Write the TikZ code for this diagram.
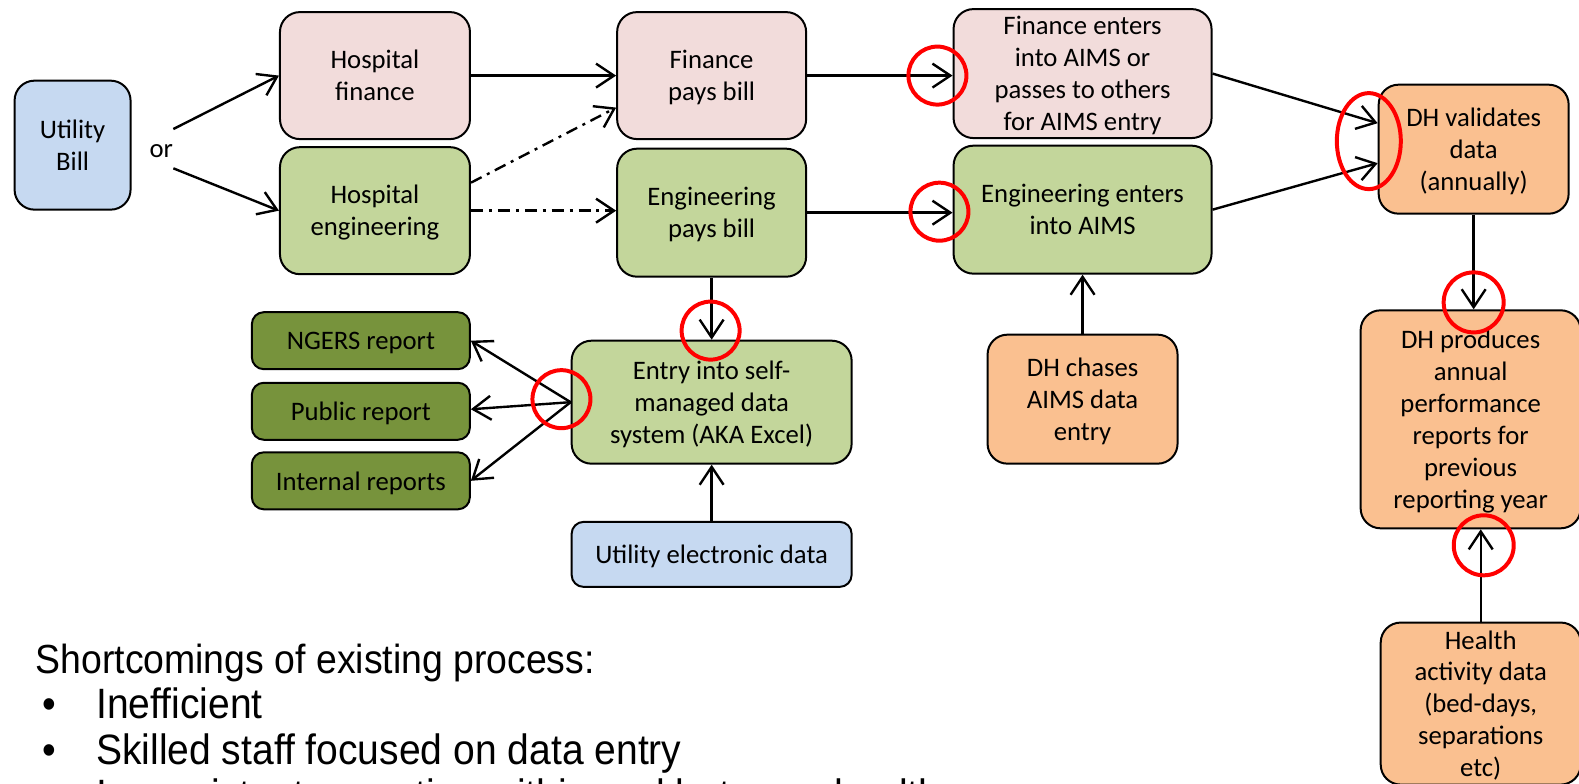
\documentclass[tikz,border=0pt]{standalone}
\usepackage{fontspec}
\setmainfont{Carlito}
\newfontfamily\notefont[FakeStretch=0.92]{Liberation Sans}
\usetikzlibrary{arrows.meta}

\definecolor{billblue}{HTML}{C6D9F1}
\definecolor{finpink}{HTML}{F2DCDB}
\definecolor{enggreen}{HTML}{C3D69B}
\definecolor{repgreen}{HTML}{77933C}
\definecolor{dhorange}{HTML}{FAC090}
\definecolor{hired}{HTML}{FF0000}

\tikzset{
	stage/.style={draw, line width=1pt, rounded corners=10pt, align=center,
		inner sep=2pt, text depth=0pt, font=\fontsize{13.4}{16}\selectfont},
	bill/.style={stage, fill=billblue},
	fin/.style={stage, fill=finpink},
	eng/.style={stage, fill=enggreen},
	rep/.style={stage, fill=repgreen, rounded corners=6pt},
	dh/.style={stage, fill=dhorange},
	flow/.style={line width=1.2pt, -{Straight Barb[length=9pt,width=12pt,line width=1.2pt]}},
	maybe/.style={flow, dash pattern=on 6pt off 3pt on 1.5pt off 3pt},
	hilite/.style={draw=hired, line width=2pt},
	note/.style={anchor=base west, inner sep=0pt, font=\notefont\fontsize{21.3}{22.5}\selectfont}
}

\begin{document}
\begin{tikzpicture}[x=0.504bp, y=-0.504bp]
	\useasboundingbox (0,0) rectangle (789.5bp,-392bp);

	% bill and first handling
	\node[bill, minimum width=58bp, minimum height=64.5bp] (ubill) at (72,144) {Utility\\Bill};
	\node[inner sep=0pt, font=\fontsize{13.4}{16}\selectfont] (or) at (160,150) {or};
	\coordinate (orup) at (172,128);
	\coordinate (ordown) at (172,167);
	\node[fin, minimum width=95bp, minimum height=63.5bp] (hfin) at (372,75) {Hospital\\finance};
	\node[eng, minimum width=95bp, minimum height=63.5bp] (heng) at (372,209) {Hospital\\engineering};
	\node[fin, minimum width=94.5bp, minimum height=63.5bp] (fpay) at (706,75) {Finance\\pays bill};
	\node[eng, minimum width=94.5bp, minimum height=64bp] (epay) at (706,211) {Engineering\\pays bill};

	% AIMS entry
	\node[fin, minimum width=129bp, minimum height=64.5bp] (fent) at (1074,73) {Finance enters\\into AIMS or\\passes to others\\for AIMS entry};
	\node[eng, minimum width=129bp, minimum height=64bp] (eent) at (1074,208) {Engineering enters\\into AIMS};
	\node[dh, minimum width=95bp, minimum height=64.5bp] (chase) at (1074,396) {DH chases\\AIMS data\\entry};

	% DH side
	\node[dh, minimum width=95bp, minimum height=64.5bp] (valid) at (1462,148) {DH validates\\data\\(annually)};
	\node[dh, minimum width=110bp, minimum height=109bp] (prod) at (1459,416) {DH produces\\annual\\performance\\reports for\\previous\\reporting year};
	\node[dh, minimum width=100bp, minimum height=81bp] (health) at (1469,698) {Health\\activity data\\(bed-days,\\separations\\etc)};

	% self-managed system
	\node[eng, minimum width=140bp, minimum height=61.5bp] (excel) at (706,399) {Entry into self-\\managed data\\system (AKA Excel)};
	\node[bill, minimum width=140bp, minimum height=32.5bp, rounded corners=6pt] (elec) at (706,550) {Utility electronic data};
	\node[rep, minimum width=109bp, minimum height=28.5bp] (ngers) at (358,338) {NGERS report};
	\node[rep, minimum width=109bp, minimum height=28.5bp] (pub) at (358,408) {Public report};
	\node[rep, minimum width=109bp, minimum height=28.5bp] (intl) at (358,477) {Internal reports};

	% connectors
	\draw[flow] (orup) -- (hfin.west);
	\draw[flow] (ordown) -- (heng.west);
	\draw[flow] (hfin.east) -- (hfin.east -| fpay.west);
	\draw[maybe] ([yshift=14bp]heng.east) -- ([yshift=-16bp]fpay.west);
	\draw[maybe] (heng.east) -- (heng.east -| epay.west);
	\draw[flow] (fpay.east) -- (fpay.east -| fent.west);
	\draw[flow] (epay.east) -- (epay.east -| eent.west);
	\draw[flow] (fent.east) -- ([yshift=13bp]valid.west);
	\draw[flow] (eent.east) -- ([yshift=-7bp]valid.west);
	\draw[flow] (valid.south) -- (valid.south |- prod.north);
	\draw[flow] (health.north) -- (health.north |- prod.south);
	\draw[flow] (chase.north) -- (eent.south);
	\draw[flow] (epay.south) -- (excel.north);
	\draw[flow] (elec.north) -- (excel.south);
	\draw[flow] (excel.west) -- (ngers.east);
	\draw[flow] (excel.west) -- ([yshift=1bp]pub.east);
	\draw[flow] (excel.west) -- (intl.east);

	% red marks
	\draw[hilite] (930,75) circle[radius=14.5bp];
	\draw[hilite] (932,210) circle[radius=14.5bp];
	\draw[hilite] (1358,140) ellipse[x radius=16bp, y radius=24bp];
	\draw[hilite] (1462,300) circle[radius=15bp];
	\draw[hilite] (1472,541) circle[radius=15bp];
	\draw[hilite] (705,328) circle[radius=14.5bp];
	\draw[hilite] (557,396) circle[radius=14.5bp];

	% shortcomings
	\node[note, font=\notefont\fontsize{20.4}{22.5}\selectfont] (short) at (35,668) {Shortcomings of existing process:};
	\node[note] (dot1) at (42,713) {•};
	\node[note] (item1) at (95,713) {Inefficient};
	\node[note] (dot2) at (42,758) {•};
	\node[note] (item2) at (95,758) {Skilled staff focused on data entry};
	\node[note] (dot3) at (42,803) {•};
	\node[note] (item3) at (95,803) {Inconsistent operation within and between health};
\end{tikzpicture}
\end{document}
